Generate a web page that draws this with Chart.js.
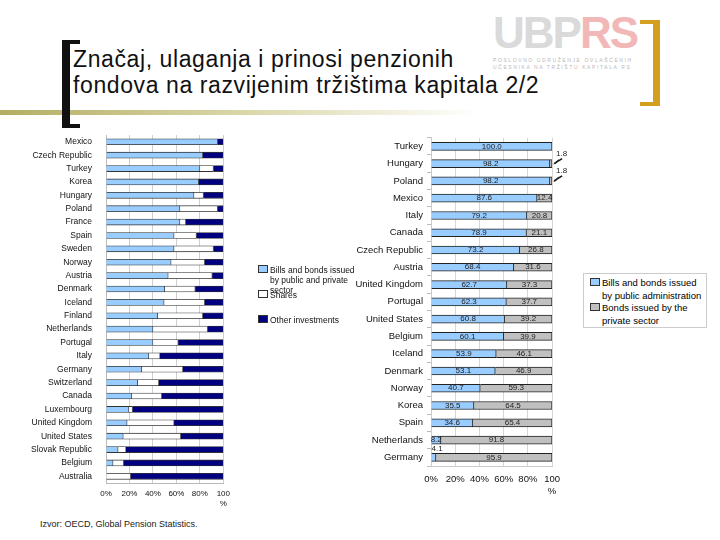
<!DOCTYPE html>
<html>
<head>
<meta charset="utf-8">
<script src="https://cdn.jsdelivr.net/npm/chart.js@4"></script>
<style>
  body { margin:0; width:720px; height:540px; background:#fff; position:relative; overflow:hidden;
         font-family:"Liberation Sans", Arial, sans-serif; }
  .abs { position:absolute; }
  #title { left:73px; top:46px; font-size:23px; line-height:26px; letter-spacing:0.6px; color:#111; white-space:nowrap; }
  #brL { left:62px; top:40px; width:18px; height:88px; border:solid #111; border-width:4px 0 4px 8px; box-sizing:border-box; }
  #brR { left:640px; top:20px; width:20px; height:86px; border:solid #d2a01e; border-width:4px 7px 4px 0; box-sizing:border-box; }
  #rule { left:0; top:110px; width:480px; height:5px; background:linear-gradient(to right,#b4ae63,#d9d6a8 50%,#fff); }
  #logo { left:493px; top:11px; font-size:44px; line-height:44px; font-weight:bold; letter-spacing:-2px; color:#dadada; white-space:nowrap; }
  #logo span { color:#f2b8b8; }
  #logoSub { left:493px; top:57px; font-size:5px; line-height:7px; color:#b8b8b8; letter-spacing:1.6px; white-space:nowrap; }
  .leg { font-size:8.5px; line-height:10px; color:#111; white-space:nowrap; }
  .sw { display:inline-block; width:8px; height:6px; border:1px solid #333; margin-right:2px; vertical-align:0; }
  #legR { left:583px; top:273px; width:124px; height:55px; border:1px solid #ccc; font-size:9.5px; line-height:12.5px; padding:3px 0 0 6px; box-sizing:border-box; white-space:nowrap; }
  #src { left:40px; top:519px; font-size:9px; color:#222; }
</style>
</head>
<body>
<div id="rule" class="abs"></div>
<div id="brL" class="abs"></div>
<div id="brR" class="abs"></div>
<div id="logo" class="abs">UBP<span>RS</span></div>
<div id="logoSub" class="abs">POSLOVNO UDRUŽENJE OVLAŠĆENIH<br>UČESNIKA NA TRŽIŠTU KAPITALA RS</div>
<div id="title" class="abs">Značaj, ulaganja i prinosi penzionih<br>fondova na razvijenim tržištima kapitala 2/2</div>

<div class="abs" style="left:20px;top:124px;width:216px;height:389px"><canvas id="left" width="216" height="389"></canvas></div>
<div class="abs" style="left:340px;top:128px;width:228px;height:378px"><canvas id="right" width="228" height="378"></canvas></div>

<div class="abs leg" style="left:258px;top:265px">
  <span class="sw" style="background:#99ccff"></span>Bills and bonds  issued<br>
  <span style="padding-left:12px">by public and private</span><br>
  <span style="padding-left:12px">sector</span>
</div>
<div class="abs leg" style="left:258px;top:290px"><span class="sw" style="background:#fff"></span>Shares</div>
<div class="abs leg" style="left:258px;top:315px"><span class="sw" style="background:#000080"></span>Other investments</div>

<div id="legR" class="abs">
  <span class="sw" style="background:#99ccff"></span>Bills and bonds issued<br>
  <span style="padding-left:12px">by public administration</span><br>
  <span class="sw" style="background:#c0c0c0"></span>Bonds issued by the<br>
  <span style="padding-left:12px">private sector</span>
</div>

<div id="src" class="abs">Izvor: OECD, Global Pension Statistics.</div>

<script>
// left chart: portfolio structure (%)
const leftCountries = ["Mexico","Czech Republic","Turkey","Korea","Hungary","Poland","France","Spain",
  "Sweden","Norway","Austria","Denmark","Iceland","Finland","Netherlands","Portugal","Italy","Germany",
  "Switzerland","Canada","Luxembourg","United Kingdom","United States","Slovak Republic","Belgium","Australia"];
const leftBills  = [95,82.5,80,79,75,63,63,58,58,55.5,53,50,49.5,44,40,40,36.5,30.5,27,22,19.5,18,14.7,10.3,6,0];
const leftShares = [0,0,11.5,0,8,32,5,19,33.5,28.5,37.5,26,34.5,38.5,46.5,21.5,9.5,35,18,25.5,3,40,49,6.7,9,21];
const leftOther  = [5,17.5,8.5,21,17,5,32,23,8.5,16,9.5,24,16,17.5,13.5,38.5,54,34.5,55,52.5,77.5,42,36.3,83,85,79];

// right chart: bonds split (%)
const rightCountries = ["Turkey","Hungary","Poland","Mexico","Italy","Canada","Czech Republic","Austria",
  "United Kingdom","Portugal","United States","Belgium","Iceland","Denmark","Norway","Korea","Spain",
  "Netherlands","Germany"];
const rightPublic  = [100.0,98.2,98.2,87.6,79.2,78.9,73.2,68.4,62.7,62.3,60.8,60.1,53.9,53.1,40.7,35.5,34.6,8.2,4.1];
const rightPrivate = [0,1.8,1.8,12.4,20.8,21.1,26.8,31.6,37.3,37.7,39.2,39.9,46.1,46.9,59.3,64.5,65.4,91.8,95.9];

const xTicks = [0,20,40,60,80,100];
const FONT = '"Liberation Sans", Arial, sans-serif';
Chart.defaults.font.family = FONT;
Chart.defaults.color = '#111';

const pctTick = (v) => v === 100 ? ['100','%'] : v + '%';

const leftChart = new Chart(document.getElementById('left'), {
  type: 'bar',
  data: {
    labels: leftCountries,
    datasets: [
      { label: 'Bills and bonds issued by public and private sector', data: leftBills, backgroundColor: '#99ccff' },
      { label: 'Shares', data: leftShares, backgroundColor: '#ffffff' },
      { label: 'Other investments', data: leftOther, backgroundColor: '#000080' }
    ].map(d => Object.assign(d, { borderColor: '#333', borderWidth: 0.8, barThickness: 6 }))
  },
  options: {
    indexAxis: 'y',
    responsive: false,
    animation: false,
    layout: { padding: { top: 2, right: 10 } },
    plugins: { legend: { display: false }, tooltip: { enabled: false } },
    scales: {
      x: {
        stacked: true, min: 0, max: 100,
        afterBuildTicks: s => { s.ticks = xTicks.map(v => ({ value: v })); },
        afterFit: s => { s.height = 30; },
        grid: { color: '#cfcfcf', drawTicks: false },
        border: { color: '#bbb' },
        ticks: { font: { size: 8 }, padding: 6, callback: pctTick, maxRotation: 0 }
      },
      y: {
        stacked: true,
        afterFit: s => { s.width = 86; },
        grid: { display: false },
        border: { color: '#bbb' },
        ticks: { font: { size: 8.5 }, padding: 6, autoSkip: false }
      }
    }
  }
});

// value labels for the right chart, placed from the bar elements
const segLabels = {
  id: 'segLabels',
  afterDatasetsDraw(chart) {
    const ctx = chart.ctx;
    ctx.save();
    ctx.font = '8px ' + FONT;
    ctx.fillStyle = '#222';
    ctx.strokeStyle = '#111';
    ctx.textBaseline = 'middle';
    chart.data.datasets.forEach((ds, di) => {
      chart.getDatasetMeta(di).data.forEach((bar, i) => {
        const v = ds.data[i];
        if (v === 0) return;
        const txt = v.toFixed(1);
        if (v >= 5) {
          ctx.textAlign = 'center';
          ctx.fillText(txt, (bar.base + bar.x) / 2, bar.y);
        } else if (di === 1) {
          // small private share: callout with arrow
          ctx.textAlign = 'left';
          ctx.fillText(txt, bar.x + 4, bar.y - 10);
          ctx.lineWidth = 1.5;
          ctx.beginPath();
          ctx.moveTo(bar.x + 10, bar.y - 5);
          ctx.lineTo(bar.x + 2, bar.y);
          ctx.stroke();
          ctx.beginPath();
          ctx.moveTo(bar.x + 1, bar.y + 1);
          ctx.lineTo(bar.x + 7, bar.y - 5);
          ctx.lineTo(bar.x + 4, bar.y);
          ctx.closePath();
          ctx.fill();
        } else {
          ctx.textAlign = 'left';
          ctx.fillText(txt, bar.base, bar.y - 9);
        }
      });
    });
    ctx.restore();
  }
};

const rightChart = new Chart(document.getElementById('right'), {
  type: 'bar',
  data: {
    labels: rightCountries,
    datasets: [
      { label: 'Bills and bonds issued by public administration', data: rightPublic, backgroundColor: '#99ccff' },
      { label: 'Bonds issued by the private sector', data: rightPrivate, backgroundColor: '#c0c0c0' }
    ].map(d => Object.assign(d, { borderColor: '#222', borderWidth: 1, barThickness: 8 }))
  },
  options: {
    indexAxis: 'y',
    responsive: false,
    animation: false,
    layout: { padding: { top: 4, right: 12 } },
    plugins: { legend: { display: false }, tooltip: { enabled: false } },
    scales: {
      x: {
        stacked: true, min: 0, max: 100,
        afterBuildTicks: s => { s.ticks = xTicks.map(v => ({ value: v })); },
        afterFit: s => { s.height = 40; },
        grid: { color: '#d6d6d6', drawTicks: false },
        border: { color: '#ccc' },
        ticks: { font: { size: 9.5 }, padding: 8, callback: pctTick, maxRotation: 0 }
      },
      y: {
        stacked: true,
        afterFit: s => { s.width = 91; },
        grid: { drawOnChartArea: false, tickLength: 4, color: '#bbb' },
        border: { color: '#ccc' },
        ticks: { font: { size: 9.5 }, padding: 4, autoSkip: false }
      }
    }
  },
  plugins: [segLabels]
});
</script>
</body>
</html>
